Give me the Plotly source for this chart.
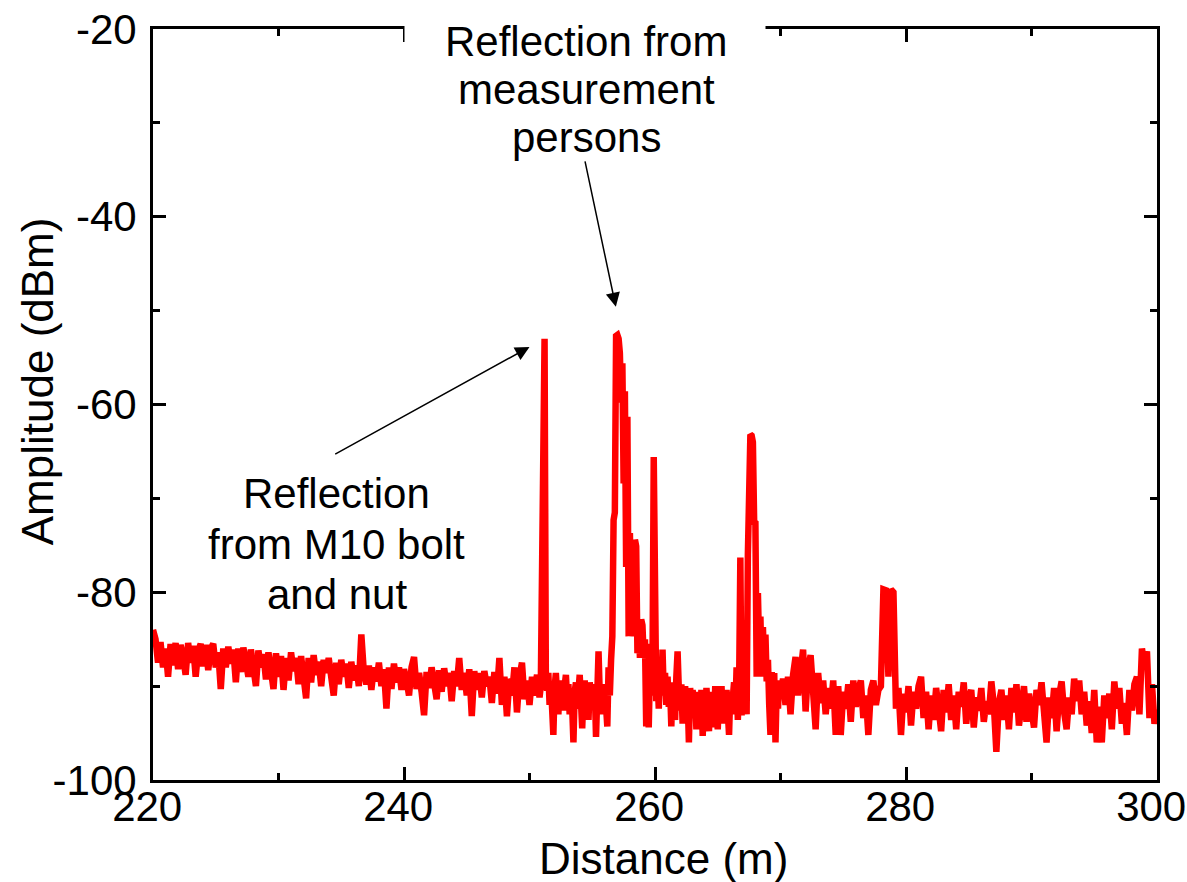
import numpy as np
import plotly.graph_objects as go

FONT = "Liberation Sans, Arial, sans-serif"

# Distance grid (m): 0.2 m steps, refined to 0.1 m around the reflection peaks
distance_220_250 = np.arange(1100, 1250) / 5.0
distance_250_270 = np.arange(2500, 2700) / 10.0
distance_270_300 = np.arange(1350, 1501) / 5.0

# Received amplitude (dBm) on the grid above
amp_220_250 = [
    -84.0, -85.0, -87.5, -85.3, -88.0, -86.0, -89.0, -85.5, -87.8, -85.4,
    -88.2, -85.6, -86.9, -88.8, -85.4, -87.5, -85.7, -89.0, -86.2, -85.5,
    -87.9, -85.6, -88.3, -86.0, -85.5, -88.0, -86.4, -90.3, -86.0, -88.0,
    -85.8, -87.6, -86.1, -89.6, -86.0, -88.5, -85.9, -87.3, -89.0, -86.1,
    -88.6, -90.0, -86.2, -88.0, -86.6, -89.3, -86.4, -88.8, -90.3, -86.5,
    -89.0, -86.8, -90.4, -87.0, -89.4, -86.4, -88.4, -87.0, -89.8, -86.8,
    -88.6, -91.3, -87.0, -89.6, -86.7, -88.8, -87.4, -90.0, -87.2, -88.6,
    -87.0, -89.5, -91.0, -87.5, -89.8, -87.2, -89.0, -87.6, -90.2, -87.4,
    -89.4, -87.8, -90.0, -84.5, -88.5, -89.8, -87.8, -90.4, -88.0, -89.5,
    -87.5, -90.0, -88.2, -92.4, -88.0, -90.3, -87.6, -89.6, -88.0, -90.4,
    -88.2, -89.4, -91.0, -88.0, -86.9, -90.3, -88.6, -90.6, -93.1, -88.5,
    -90.2, -88.0, -89.8, -91.4, -88.3, -90.6, -88.1, -90.0, -88.6, -91.6,
    -88.4, -90.0, -87.0, -90.4, -88.6, -91.0, -88.2, -93.2, -88.4, -90.4,
    -88.6, -91.2, -88.4, -90.0, -89.0, -91.8, -88.5, -90.8, -87.0, -92.0,
    -89.0, -93.2, -89.2, -91.0, -88.0, -92.8, -89.0, -87.5, -91.4, -89.4,
]

amp_250_270 = [
    -92.0, -90.5, -89.0, -90.2, -91.0, -89.6, -88.8, -90.0, -91.2, -90.0,
    -74.5, -53.2, -53.0, -88.5, -90.5, -88.6, -92.0, -89.5, -91.8, -95.2,
    -90.2, -88.6, -91.0, -93.0, -89.8, -91.6, -89.4, -92.6, -90.0, -88.8,
    -91.4, -89.8, -93.0, -90.4, -92.2, -96.0, -90.6, -89.6, -92.4, -90.0,
    -88.8, -91.6, -94.5, -90.6, -89.4, -92.2, -90.0, -93.6, -89.6, -91.0,
    -89.8, -92.4, -90.2, -95.4, -90.4, -86.3, -91.0, -93.0, -89.8, -91.4,
    -90.0, -93.2, -94.3, -88.0, -91.0, -87.2, -84.7, -72.3, -71.5, -52.7,
    -52.6, -53.0, -54.5, -59.8, -55.6, -68.4, -58.6, -77.3, -61.3, -84.7,
    -73.7, -82.0, -75.1, -84.7, -74.4, -75.1, -86.5, -82.9, -87.0, -82.9,
    -83.5, -87.0, -85.0, -94.3, -85.5, -94.4, -88.0, -91.0, -88.0, -65.6,
    -88.5, -91.6, -89.0, -92.4, -88.4, -90.6, -86.1, -91.0, -88.6, -92.0,
    -89.0, -92.2, -90.0, -94.3, -89.6, -91.0, -93.6, -89.0, -86.3, -90.4,
    -92.6, -89.8, -94.0, -91.0, -90.0, -93.0, -91.2, -96.0, -90.2, -92.6,
    -90.4, -93.4, -91.0, -94.6, -90.6, -92.0, -94.2, -90.4, -95.3, -91.2,
    -93.6, -90.2, -92.4, -94.8, -90.6, -93.0, -91.0, -94.4, -90.0, -92.6,
    -94.6, -90.8, -92.2, -90.0, -94.0, -91.4, -93.6, -90.4, -92.0, -95.2,
    -90.6, -93.0, -91.2, -89.6, -92.8, -88.0, -93.6, -90.0, -76.3, -93.1,
    -91.0, -89.6, -92.0, -93.0, -76.0, -63.4, -63.2, -63.3, -64.0, -72.5,
    -72.6, -89.0, -80.1, -86.0, -82.6, -89.0, -83.7, -88.5, -84.5, -89.5,
    -87.2, -92.0, -95.2, -88.5, -93.0, -88.6, -96.0, -90.0, -92.4, -89.4,
]

amp_270_300 = [
    -91.0, -89.2, -92.0, -89.0, -93.0, -88.8, -86.9, -91.0, -89.0, -86.1,
    -92.7, -88.0, -86.7, -90.4, -94.6, -88.6, -91.8, -89.4, -93.0, -90.2,
    -92.4, -89.4, -95.2, -90.0, -95.2, -90.6, -92.4, -89.8, -93.8, -89.4,
    -92.2, -90.4, -89.4, -93.4, -91.0, -95.2, -90.4, -89.4, -92.0, -90.4,
    -90.0, -79.7, -79.8, -89.0, -79.7, -80.0, -92.4, -90.2, -95.2, -90.8,
    -92.8, -90.0, -94.2, -90.6, -92.4, -90.0, -89.0, -93.4, -90.6, -94.6,
    -91.0, -93.6, -90.2, -92.4, -94.8, -90.4, -92.8, -89.8, -93.6, -91.0,
    -94.6, -90.6, -92.2, -89.6, -94.0, -91.4, -90.4, -94.4, -91.2, -92.6,
    -90.2, -93.8, -91.6, -93.0, -89.5, -92.0, -97.0, -91.8, -90.4, -93.6,
    -91.0, -94.6, -90.2, -92.8, -89.8, -94.2, -91.4, -90.0, -93.8, -90.8,
    -92.6, -94.4, -90.4, -92.0, -89.6, -93.6, -96.0, -91.2, -93.4, -90.2,
    -94.8, -91.0, -89.5, -92.8, -94.6, -91.2, -93.0, -89.2, -91.6, -89.4,
    -93.0, -90.6, -94.2, -91.6, -95.0, -90.4, -96.0, -92.2, -96.0, -91.0,
    -93.4, -90.8, -94.6, -89.5, -92.4, -90.2, -94.0, -91.8, -95.2, -90.4,
    -92.6, -89.8, -89.0, -93.0, -86.0, -87.8, -86.3, -93.4, -89.8, -94.0,
    -92.5,
]

x_ticks = [220, 240, 260, 280, 300]
x_minor = [230, 250, 270, 290]
y_ticks = [-100, -80, -60, -40, -20]
y_minor = [-90, -70, -50, -30]

person_label = ["Reflection from", "measurement", "persons"]
bolt_label = ["Reflection", "from M10 bolt", "and nut"]

distance = np.concatenate([distance_220_250, distance_250_270, distance_270_300])
amplitude = np.array(amp_220_250 + amp_250_270 + amp_270_300)

fig = go.Figure()
fig.add_trace(go.Scatter(
    x=distance, y=amplitude, mode="lines",
    line=dict(color="#ff0000", width=6.5),
    showlegend=False, hoverinfo="skip",
))

axis_style = dict(
    showline=True, linewidth=3, linecolor="black", mirror="allticks",
    ticks="inside", ticklen=13, tickwidth=3, tickcolor="black",
    showgrid=False, zeroline=False, ticklabeloverflow="allow", automargin=False,
    tickfont=dict(family=FONT, size=42, color="black"),
)
minor_style = dict(ticks="inside", ticklen=7, tickwidth=3, tickcolor="black",
                   showgrid=False, tickmode="array")

# x labels sit slightly left of their ticks (trailing no-break space)
fig.update_xaxes(range=[220, 300], tickmode="array", tickvals=x_ticks,
                 ticktext=[f"{v}\u00a0" for v in x_ticks], ticklabelstandoff=-12,
                 minor=dict(tickvals=x_minor, **minor_style), **axis_style)
fig.update_yaxes(range=[-100, -20], tickmode="array", tickvals=y_ticks,
                 ticktext=[str(v) for v in y_ticks], ticklabelstandoff=5,
                 minor=dict(tickvals=y_minor, **minor_style), **axis_style)

text_font = dict(family=FONT, size=42, color="black")
title_font = dict(family=FONT, size=44, color="black")

annotations = [
    dict(text="Distance (m)", xref="paper", yref="paper", x=0.508, y=-0.104,
         xanchor="center", yanchor="middle", showarrow=False, font=title_font),
    dict(text="Amplitude (dBm)", xref="paper", yref="paper", x=-0.1155, y=0.531,
         xanchor="center", yanchor="middle", showarrow=False, textangle=-90, font=title_font),
    # white backing that breaks the top frame behind the label
    dict(text=" ", xref="paper", yref="paper", x=0.4305, y=1.0,
         xanchor="center", yanchor="middle", showarrow=False,
         bgcolor="white", width=358, height=34),
]

# label over the plot, one annotation per line for tight line spacing
for line, y in zip(person_label, [0.9827, 0.9188, 0.8549]):
    annotations.append(dict(text=line, xref="paper", yref="paper", x=0.4315, y=y,
                            xanchor="center", yanchor="middle", showarrow=False,
                            font=text_font))

for line, y in zip(bolt_label, [-69.43, -74.86, -80.29]):
    annotations.append(dict(text=line, xref="x", yref="y", x=234.66, y=y,
                            xanchor="center", yanchor="middle", showarrow=False,
                            font=text_font))

arrow_style = dict(text="", xref="x", yref="y", axref="x", ayref="y", showarrow=True,
                   arrowhead=2, arrowsize=1.9, arrowwidth=1.5, arrowcolor="black")
annotations.append(dict(x=256.88, y=-49.6, ax=254.4, ay=-33.95, **arrow_style))
annotations.append(dict(x=250.0, y=-53.87, ax=234.4, ay=-65.37, **arrow_style))

fig.update_layout(
    width=1187, height=882,
    margin=dict(l=153, r=30, t=29, b=102, autoexpand=False),
    plot_bgcolor="white", paper_bgcolor="white",
    font=dict(family=FONT, color="black"),
    annotations=annotations,
)

fig.write_html("out.html")
